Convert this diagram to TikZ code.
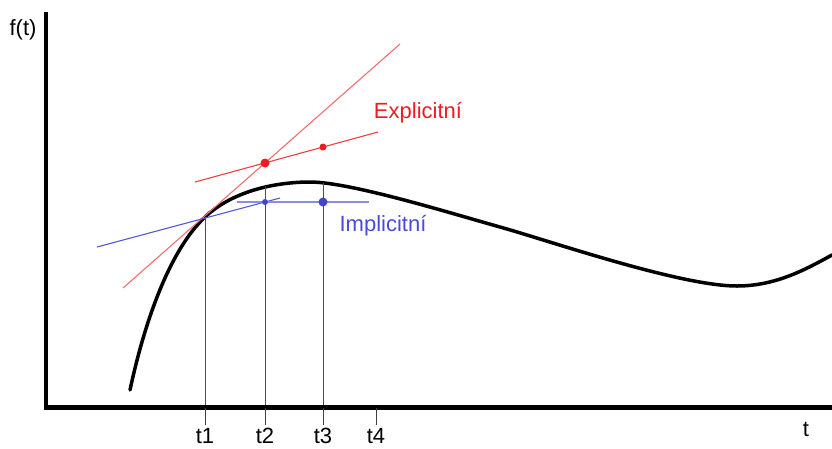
\documentclass[tikz,border=0pt]{standalone}
\usepackage{fontspec}
\setmainfont{Liberation Sans}
\definecolor{pred}{HTML}{ED1C24}
\definecolor{lred}{HTML}{F07070}
\definecolor{pblue}{HTML}{3F48CC}
\definecolor{lblue}{HTML}{8C8CE8}
\definecolor{tblue}{HTML}{4A4AD8}
\tikzset{
  axis/.style={line width=4.5pt},
  guide/.style={line width=0.9pt,draw=black!70},
  tickm/.style={line width=0.9pt,draw=black!75},
  lbl/.style={font=\fontsize{22}{24}\selectfont,inner sep=0pt},
  dotr/.style={circle,fill=pred,inner sep=0pt,minimum size=#1},
  dotb/.style={circle,fill=pblue,inner sep=0pt,minimum size=#1},
}
\begin{document}
\begin{tikzpicture}[x=1pt,y=-1pt]
\useasboundingbox (0,0) rectangle (832,448);
% axes
\coordinate (O) at (46,405);
\coordinate (Ytop) at (46,12);
\coordinate (Xend) at (832,405);
\draw[axis] (Ytop) -- (O|-0,407.25) -- (Xend|-0,407.25);
\node[lbl] (ft) at (23,30) {f(t)};
\node[lbl] (tl) at (806,429) {t};
% ticks and labels
\foreach \n/\x in {1/205,2/265,3/323,4/376}{
  \coordinate (k\n) at (\x,408);
  \coordinate (kb\n) at (\x,425);
  \draw[tickm] (k\n) -- (kb\n);
  \node[lbl] (lt\n) at (\x,436) {t\n};
}
% curve
\draw[line width=3.5pt,line cap=round]
  (130,390) .. controls (145,320) and (170,250) .. (205,217)
  .. controls (235,189) and (280,182) .. (310,182)
  .. controls (350,182) and (450,213) .. (500,227)
  .. controls (550,241) and (680,286) .. (737,286)
  .. controls (777,286) and (808,268) .. (832,255);
% guide lines
\coordinate (P1) at (205,217);
\coordinate (P2) at (265,186);
\coordinate (P3) at (323,183);
\draw[guide] (k1|-0,405) -- (P1);
\draw[guide] (k2|-0,405) -- (P2);
\draw[guide] (k3|-0,405) -- (P3);
% explicit
\coordinate (Ea) at (123,288);
\coordinate (Eb) at (400,44);
\draw[lred,line width=1.1pt] (Ea) -- (Eb);
\coordinate (Ec) at (195,182);
\coordinate (Ed) at (378,132);
\draw[pred!85,line width=1.1pt] (Ec) -- (Ed);
\node[dotr=9pt] (E2) at (265,163) {};
\node[dotr=7pt] (E3) at (323,147) {};
% implicit
\coordinate (Ia) at (97,247);
\coordinate (Ib) at (280,198);
\draw[pblue!90,line width=1.1pt] (Ia) -- (Ib);
\coordinate (Ic) at (237,202);
\coordinate (Id) at (369,202);
\draw[lblue,line width=1.4pt] (Ic) -- (Id);
\node[dotb=6pt] (I2) at (265,202) {};
\node[dotb=9pt] (I3) at (323,202) {};
% labels
\node[lbl,text=pred] (ex) at (418,113) {Explicitní};
\node[lbl,text=tblue] (im) at (383,226) {Implicitní};
\end{tikzpicture}
\end{document}
